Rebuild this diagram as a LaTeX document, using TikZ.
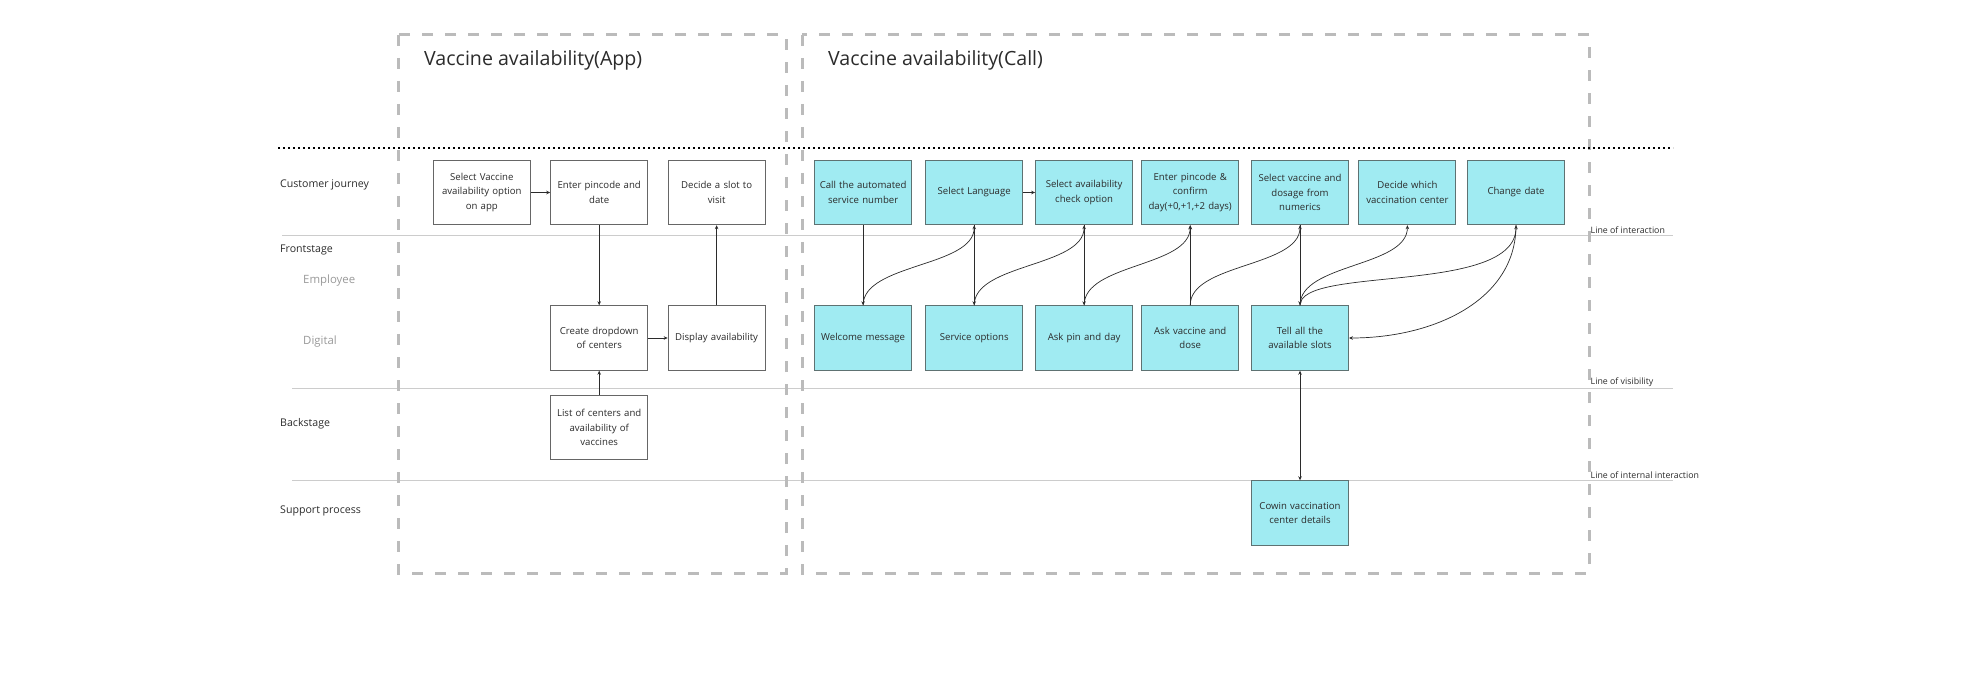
\documentclass[tikz,border=0pt]{standalone}
\usepackage{fontspec}
\setmainfont{Open Sans}
\usetikzlibrary{arrows.meta}
\definecolor{cyanfill}{HTML}{A0EBF2}
\definecolor{cyanedge}{HTML}{5E7272}
\definecolor{boxedge}{HTML}{666666}
\definecolor{txt}{HTML}{2B2B2B}
\definecolor{lighttxt}{HTML}{999999}
\definecolor{framecol}{HTML}{BBBBBB}
\definecolor{rowline}{HTML}{CCCCCC}
\begin{document}
\begin{tikzpicture}[x=1pt,y=-1pt,
  wbox/.style={draw=boxedge, fill=white, line width=0.9pt, minimum width=97pt, minimum height=64.5pt,
    inner sep=0pt, text width=95pt, align=center, font=\fontsize{9.6}{14.5}\selectfont, text=txt},
  cbox/.style={wbox, fill=cyanfill, draw=cyanedge},
  arr/.style={draw=txt, line width=0.7pt, -{Stealth[length=4pt,width=3.5pt]}},
  dblarr/.style={draw=txt, line width=0.9pt, {Stealth[length=4pt,width=3.5pt]}-{Stealth[length=4pt,width=3.5pt]}},
  rowlab/.style={anchor=west, inner sep=0pt, text=txt, font=\fontsize{10.6}{12}\selectfont},
  sublab/.style={rowlab, text=lighttxt, font=\fontsize{11.4}{13}\selectfont},
  linelab/.style={anchor=south west, inner sep=1.5pt, text=txt, font=\fontsize{8.8}{10}\selectfont},
  titlelab/.style={anchor=west, inner sep=0pt, text=txt, font=\fontsize{19.6}{23}\selectfont},
  rowrule/.style={draw=rowline, line width=0.8pt},
  frame/.style={draw=framecol, line width=3pt, dash pattern=on 11pt off 12pt}
]
\useasboundingbox (0,0) rectangle (1980,700);

% row lines
\coordinate (li1) at (282,235);  \coordinate (li2) at (1673,235);
\coordinate (lv1) at (292,388);  \coordinate (lv2) at (1673,388);
\coordinate (lii1) at (292,480); \coordinate (lii2) at (1673,480);
\draw[rowrule] (li1) -- (li2);
\draw[rowrule] (lv1) -- (lv2);
\draw[rowrule] (lii1) -- (lii2);

% dashed frames
\draw[frame] (398,35) rectangle (786,573);
\draw[frame] (802,35) rectangle (1589,573);

% dotted line
\coordinate (dl1) at (278,148); \coordinate (dl2) at (1673,148);
\draw[black, line width=2.2pt, dash pattern=on 2pt off 3pt] (dl1) -- (dl2);

% titles
\node[titlelab] (tapp) at (424,60) {Vaccine availability(App)};
\node[titlelab] (tcall) at (828,60) {Vaccine availability(Call)};

% row labels
\node[rowlab] (rcj) at (280,185) {Customer journey};
\node[rowlab] (rfs) at (280,250) {Frontstage};
\node[sublab] (remp) at (303,281) {Employee};
\node[sublab] (rdig) at (303,342) {Digital};
\node[rowlab] (rbs) at (280,424) {Backstage};
\node[rowlab] (rsp) at (280,511) {Support process};

% line labels
\node[linelab] (lli) at (1589,235) {Line of interaction};
\node[linelab] (llv) at (1589,388) {Line of visibility};
\node[linelab] (llii) at (1589,480) {Line of internal interaction};

% App boxes
\node[wbox] (sv) at (481.8,192.5) {Select Vaccine\\availability option\\on app};
\node[wbox] (ep) at (599.2,192.5) {Enter pincode and\\date};
\node[wbox] (ds) at (716.6,192.5) {Decide a slot to\\visit};
\node[wbox] (cd) at (599.2,338) {Create dropdown\\of centers};
\node[wbox] (da) at (716.6,338) {Display availability};
\node[wbox] (lc) at (599.2,427.5) {List of centers and\\availability of\\vaccines};

\draw[arr] (sv.east) -- (ep.west);
\draw[arr] (ep.south) -- (cd.north);
\draw[arr] (lc.north) -- (cd.south);
\draw[arr] (cd.east) -- (da.west);
\draw[arr] (da.north) -- (ds.south);

% Call boxes, top row
\node[cbox] (c1) at (863.1,192.5) {Call the automated\\service number};
\node[cbox] (c2) at (974.2,192.5) {Select Language};
\node[cbox] (c3) at (1084.1,192.5) {Select availability\\check option};
\node[cbox] (c4) at (1190.2,192.5) {Enter pincode \&\\confirm\\day(+0,+1,+2 days)};
\node[cbox] (c5) at (1300.0,192.5) {Select vaccine and\\dosage from\\numerics};
\node[cbox] (c6) at (1407.4,192.5) {Decide which\\vaccination center};
\node[cbox] (c7) at (1516.0,192.5) {Change date};

% Call boxes, bottom row
\node[cbox] (b1) at (863.1,338) {Welcome message};
\node[cbox] (b2) at (974.2,338) {Service options};
\node[cbox] (b3) at (1084.1,338) {Ask pin and day};
\node[cbox] (b4) at (1190.2,338) {Ask vaccine and\\dose};
\node[cbox] (b5) at (1300.0,338) {Tell all the\\available slots};
\node[cbox] (cw) at (1300.0,513) {Cowin vaccination\\center details};

% Call connectors
\draw[arr] (c1.south) -- (b1.north);
\draw[arr] (b1.north) .. controls +(0,-42) and +(0,42) .. (c2.south);
\draw[arr] (c2.east) -- (c3.west);
\draw[arr] (c2.south) -- (b2.north);
\draw[arr] (b2.north) .. controls +(0,-42) and +(0,42) .. (c3.south);
\draw[arr] (c3.south) -- (b3.north);
\draw[arr] (b3.north) .. controls +(0,-42) and +(0,42) .. (c4.south);
\draw[arr] (b4.north) -- (c4.south);
\draw[arr] (b4.north) .. controls +(0,-42) and +(0,42) .. (c5.south);
\draw[arr] (c5.south) -- (b5.north);
\draw[arr] (b5.north) .. controls +(0,-42) and +(0,42) .. (c6.south);
\draw[arr] (b5.north) .. controls +(0,-40) and +(0,70) .. (c7.south);
\draw[arr] (c7.south) .. controls +(0,75) and +(85,0) .. (b5.east);
\draw[dblarr] (b5.south) -- (cw.north);
\end{tikzpicture}
\end{document}
